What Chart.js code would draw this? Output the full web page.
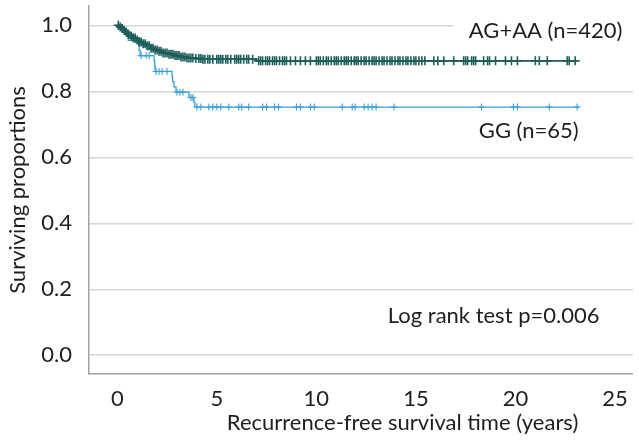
<!DOCTYPE html>
<html>
<head>
<meta charset="utf-8">
<script src="https://cdn.jsdelivr.net/npm/chart.js@4/dist/chart.umd.min.js"></script>
<style>
  html, body { margin: 0; padding: 0; background: #ffffff; }
  #wrap { width: 639px; height: 446px; position: relative; }
</style>
</head>
<body>
<div id="wrap"><canvas id="c" width="639" height="446"></canvas></div>
<script>
// ---- Data ----
const seriesNames = ['AG+AA (n=420)', 'GG (n=65)'];
const xTickValues = [0, 5, 10, 15, 20, 25];
const yTickValues = [0.0, 0.2, 0.4, 0.6, 0.8, 1.0];
const testLabel = 'Log rank test p=0.006';
const xTitle = 'Recurrence-free survival time (years)';
const yTitle = 'Surviving proportions';

// AG+AA Kaplan-Meier steps (time in years, surviving proportion)
const agaaTimes = [0, 0.1, 0.2, 0.3, 0.4, 0.5, 0.65, 0.8, 0.95, 1.1, 1.25, 1.45, 1.65, 1.85, 2.05, 2.3, 2.55, 2.85, 3.15, 3.5, 3.9, 4.3, 7.0, 23.07];
const agaaSurv  = [1.0, 0.995, 0.990, 0.985, 0.979, 0.973, 0.967, 0.961, 0.955, 0.949, 0.944, 0.938, 0.930, 0.925, 0.921, 0.916, 0.912, 0.908, 0.904, 0.901, 0.899, 0.897, 0.892, 0.892];
// AG+AA censored times
const agaaCensored = [0.05, 0.15, 0.25, 0.35, 0.45, 0.55, 0.7, 0.8, 0.9, 1.0, 1.1, 1.2, 1.3, 1.4, 1.5, 1.6, 1.7, 1.8, 1.9,
  2.0, 2.1, 2.2, 2.3, 2.4, 2.5, 2.6, 2.7, 2.8, 2.9, 3.0, 3.1, 3.2, 3.3, 3.4, 3.5, 3.6, 3.7, 3.8, 3.95,
  4.1, 4.2, 4.3, 4.4, 4.55, 4.65, 4.8, 5.0, 5.1, 5.2, 5.3, 5.45, 5.55, 5.7, 5.9, 6.0, 6.1, 6.2, 6.35, 6.5, 6.6, 6.8,
  7.1, 7.2, 7.3, 7.45, 7.55, 7.65, 7.8, 7.9, 8.0, 8.15, 8.3, 8.4, 8.5, 8.7, 8.95, 9.2, 9.45, 9.7,
  10.0, 10.1, 10.2, 10.35, 10.5, 10.6, 10.75, 10.9, 11.0,
  11.1, 11.25, 11.4, 11.5, 11.6, 11.75, 11.9, 12.0, 12.1, 12.25, 12.4, 12.5, 12.65, 12.8, 12.9, 13.0, 13.15, 13.3, 13.4, 13.55, 13.7, 13.8, 13.95, 14.1, 14.2, 14.35, 14.5, 14.6, 14.75, 14.9, 15.0, 15.15, 15.3, 15.45,
  15.9, 16.1, 16.4, 16.9,
  17.4, 17.5, 17.6, 17.8, 17.9, 18.0, 18.4, 18.6, 18.7, 19.0, 19.5, 19.8, 20.1, 21.0, 21.2, 21.6, 22.6, 22.7, 23.0];

// GG Kaplan-Meier steps
const ggTimes = [0, 0.25, 0.45, 0.55, 1.08, 1.1, 1.15, 1.85, 1.88, 1.9, 2.75, 2.78, 2.85, 2.95, 3.6, 3.85, 3.9, 23.2];
const ggSurv  = [1.0, 0.985, 0.969, 0.954, 0.938, 0.923, 0.908, 0.892, 0.876, 0.860, 0.844, 0.829, 0.813, 0.797, 0.781, 0.766, 0.752, 0.752];
// GG censored times
const ggCensored = [1.2, 1.45, 1.6, 1.95, 2.1, 2.25, 2.5, 3.0, 3.15, 3.3, 3.7, 3.8,
  4.0, 4.2, 4.6, 4.8, 5.0, 5.2, 5.6, 6.1, 6.25, 6.6, 7.3, 7.5, 7.9, 8.1, 9.0, 9.2, 9.7, 9.9,
  11.3, 11.8, 11.95, 12.4, 12.6, 12.8, 13.0, 13.9, 18.3, 19.9, 20.1, 21.7, 23.1];

// ---- helpers ----
function stepPoints(times, surv) { return times.map((t, i) => ({ x: t, y: surv[i] })); }
function survAt(times, surv, t) {
  let v = surv[0];
  for (let i = 0; i < times.length; i++) { if (times[i] <= t) v = surv[i]; else break; }
  return v;
}
function censorPoints(cens, times, surv) { return cens.map(t => ({ x: t, y: survAt(times, surv, t) })); }

// ---- styles / layout ----
const FONT = 'Lato';
const FS = 22;
const darkCol = '#1c5e5a';
const blueCol = '#3c9edc';
const textCol = '#1e1e1e';

const notes = [
  { text: seriesNames[0], t: 17.66, v: 0.983, mask: true },
  { text: seriesNames[1], t: 18.16, v: 0.680 },
  { text: testLabel,      t: 13.59, v: 0.118 }
];

const annotPlugin = {
  id: 'annot',
  beforeDatasetsDraw(chart) {
    const { ctx, scales: { x, y }, chartArea } = chart;
    ctx.save();
    ctx.font = FS + 'px ' + FONT;
    ctx.textBaseline = 'middle';
    ctx.textAlign = 'left';
    notes.forEach(n => {
      const px = x.getPixelForValue(n.t);
      const py = y.getPixelForValue(n.v);
      if (n.mask) {
        ctx.fillStyle = '#ffffff';
        ctx.fillRect(px - 15, py - 15, chartArea.right - (px - 15) + 2, 30);
      }
      ctx.fillStyle = textCol;
      ctx.fillText(n.text, px, py);
    });
    // x axis title
    ctx.textAlign = 'center';
    ctx.textBaseline = 'alphabetic';
    ctx.fillText(xTitle, x.getPixelForValue(14.33), chart.height - 16);
    ctx.restore();
  }
};

function draw() {
  const ctx = document.getElementById('c').getContext('2d');
  new Chart(ctx, {
    type: 'scatter',
    data: {
      datasets: [
        { label: seriesNames[0] + ' censored', data: censorPoints(agaaCensored, agaaTimes, agaaSurv),
          showLine: false, pointStyle: 'cross', pointRadius: 4.5, pointBorderWidth: 1.6,
          borderColor: darkCol, backgroundColor: darkCol },
        { label: seriesNames[0], data: stepPoints(agaaTimes, agaaSurv), showLine: true, stepped: true,
          borderColor: darkCol, borderWidth: 1.8, pointRadius: 0, fill: false },
        { label: seriesNames[1] + ' censored', data: censorPoints(ggCensored, ggTimes, ggSurv),
          showLine: false, pointStyle: 'cross', pointRadius: 3.5, pointBorderWidth: 1.1,
          borderColor: blueCol, backgroundColor: blueCol },
        { label: seriesNames[1], data: stepPoints(ggTimes, ggSurv), showLine: true, stepped: true,
          borderColor: blueCol, borderWidth: 1.3, pointRadius: 0, fill: false }
      ]
    },
    options: {
      responsive: false,
      animation: false,
      layout: { padding: { top: 5, left: 0, right: 0, bottom: 0 } },
      plugins: { legend: { display: false }, tooltip: { enabled: false } },
      scales: {
        x: {
          type: 'linear', min: -1.42, max: 25.9,
          afterBuildTicks: s => { s.ticks = xTickValues.map(v => ({ value: v })); },
          afterFit: s => { s.height = 72; s.paddingLeft = 0; s.paddingRight = 0; },
          grid: { display: false, drawTicks: false },
          border: { display: true, color: '#a3a3a3', width: 1.5 },
          ticks: { color: textCol, font: { family: FONT, size: FS }, padding: 12, maxRotation: 0,
                   callback: v => String(v) }
        },
        y: {
          type: 'linear', min: -0.057, max: 1.058,
          afterBuildTicks: s => { s.ticks = yTickValues.map(v => ({ value: v })); },
          afterFit: s => { s.width = 89; s.paddingTop = 0; s.paddingBottom = 0; },
          grid: { display: true, color: '#d6d6d6', lineWidth: 1.4, drawTicks: false },
          border: { display: true, color: '#a3a3a3', width: 1.5 },
          ticks: { color: textCol, font: { family: FONT, size: FS }, padding: 17,
                   callback: v => Number(v).toFixed(1) },
          title: { display: true, text: yTitle, color: textCol, font: { family: FONT, size: FS },
                   padding: { top: 5, bottom: 0 } }
        }
      }
    },
    plugins: [annotPlugin]
  });
}

if (document.fonts && document.fonts.load) {
  document.fonts.load(FS + 'px ' + FONT).then(draw, draw);
} else { draw(); }
</script>
</body>
</html>
